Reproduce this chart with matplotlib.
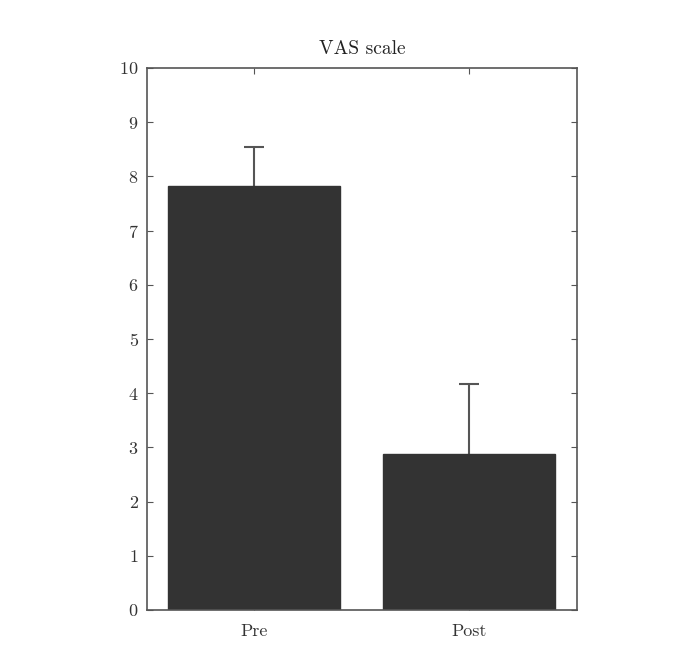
import numpy as np
import matplotlib
matplotlib.use('Agg')
import matplotlib.pyplot as plt

# data
labels = ['Pre', 'Post']
means = [7.82, 2.88]
upper_err = [0.72, 1.29]

plt.rcParams['font.family'] = 'cmr10'
plt.rcParams['axes.formatter.use_mathtext'] = True

fig = plt.figure(figsize=(7, 6.7), dpi=100)
ax = fig.add_axes([0.21, 0.0896, 0.614, 0.809])

x = np.arange(1, len(labels) + 1)
ax.bar(x, means, width=0.8, color='#333333', edgecolor='#333333', zorder=2)
# lower part hidden inside the bar, so only the upper whisker shows
ax.errorbar(x, means, yerr=[np.full(len(x), 0.3), upper_err], fmt='none',
            ecolor='#555555', elinewidth=1.5, capsize=7, capthick=1.5, zorder=1)

ax.set_xlim(0.5, 2.5)
ax.set_ylim(0, 10)
ax.set_yticks(range(0, 11))
ax.set_xticks(x)
ax.set_xticklabels(labels)
ax.tick_params(direction='in', top=True, right=True, length=4,
               color='#555555', labelsize=13, labelcolor='#333333')
ax.tick_params(axis='x', pad=10)
ax.tick_params(axis='y', pad=6)
for s in ax.spines.values():
    s.set_color('#555555')
    s.set_linewidth(1.2)
ax.set_title('VAS scale', fontsize=14, color='#222222', pad=10)

fig.savefig('out.png', dpi=100)
